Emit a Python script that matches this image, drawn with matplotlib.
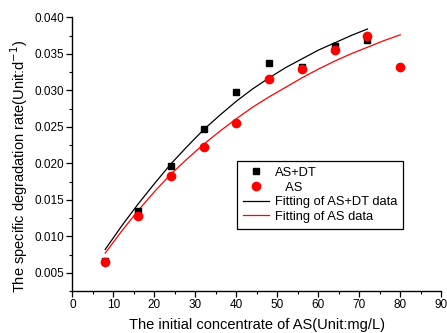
import matplotlib
matplotlib.use("Agg")
import matplotlib.pyplot as plt
from matplotlib.ticker import MultipleLocator

plt.rcParams['font.family'] = ['Liberation Sans', 'DejaVu Sans']

# measured data
x_asdt = [8, 16, 24, 32, 40, 48, 56, 64, 72]
y_asdt = [0.0066, 0.0134, 0.0196, 0.0247, 0.0298, 0.0338, 0.0332, 0.0361, 0.0369]
x_as = [8, 16, 24, 32, 40, 48, 56, 64, 72, 80]
y_as = [0.0065, 0.0128, 0.0183, 0.0223, 0.0255, 0.0316, 0.0329, 0.0355, 0.0374, 0.0332]

# fitted curves
fx_asdt = [8, 12, 16, 20, 24, 28, 32, 36, 40, 44, 48, 52, 56, 60, 64, 68, 72]
fy_asdt = [0.0082, 0.0114, 0.0144, 0.0172, 0.0199, 0.0223, 0.0246, 0.0266, 0.0285,
           0.0302, 0.0317, 0.0331, 0.0343, 0.0355, 0.0365, 0.0375, 0.0384]
fx_as = [8, 12, 16, 20, 24, 28, 32, 36, 40, 44, 48, 52, 56, 60, 64, 68, 72, 76, 80]
fy_as = [0.0077, 0.0107, 0.0135, 0.0161, 0.0185, 0.0206, 0.0226, 0.0244, 0.0261,
         0.0277, 0.0291, 0.0304, 0.0317, 0.0329, 0.0340, 0.0350, 0.0359, 0.0368, 0.0376]

fig = plt.figure(figsize=(4.47, 3.33), dpi=100)
ax = fig.add_axes([0.162, 0.126, 0.825, 0.822])

ax.plot(x_asdt, y_asdt, 's', color='black', markersize=5, label='AS+DT', zorder=3)
ax.plot(x_as, y_as, 'o', color='red', markersize=6, label='   AS', zorder=3)
ax.plot(fx_asdt, fy_asdt, '-', color='black', linewidth=0.9, label='Fitting of AS+DT data')
ax.plot(fx_as, fy_as, '-', color='red', linewidth=0.9, label='Fitting of AS data')

ax.set_xlim(0, 90)
ax.set_ylim(0.0025, 0.040)
ax.xaxis.set_major_locator(MultipleLocator(10))
ax.xaxis.set_minor_locator(MultipleLocator(5))
ax.set_yticks([0.005, 0.010, 0.015, 0.020, 0.025, 0.030, 0.035, 0.040])
ax.yaxis.set_minor_locator(MultipleLocator(0.0025))
ax.set_yticklabels(['0.005', '0.010', '0.015', '0.020', '0.025', '0.030', '0.035', '0.040'])

for s in ['top', 'right']:
    ax.spines[s].set_visible(False)
for s in ['left', 'bottom']:
    ax.spines[s].set_linewidth(1.0)
ax.tick_params(which='major', direction='out', length=4, width=0.9, labelsize=8.5, pad=2)
ax.tick_params(which='minor', direction='out', length=2, width=0.8)

ax.set_xlabel('The initial concentrate of AS(Unit:mg/L)', fontsize=10.5, labelpad=5)
ax.set_ylabel('The specific degradation rate(Unit:d$^{-1}$)', fontsize=10.5)
ax.yaxis.set_label_coords(-0.115, 0.457)

leg = ax.legend(loc='upper left', bbox_to_anchor=(0.447, 0.475), fontsize=9.3,
                frameon=True, fancybox=False, edgecolor='black', framealpha=1,
                handlelength=2.0, handletextpad=0.45, borderpad=0.45, labelspacing=0.2,
                borderaxespad=0)
leg.get_frame().set_linewidth(0.9)

fig.savefig('out.png', dpi=100)
